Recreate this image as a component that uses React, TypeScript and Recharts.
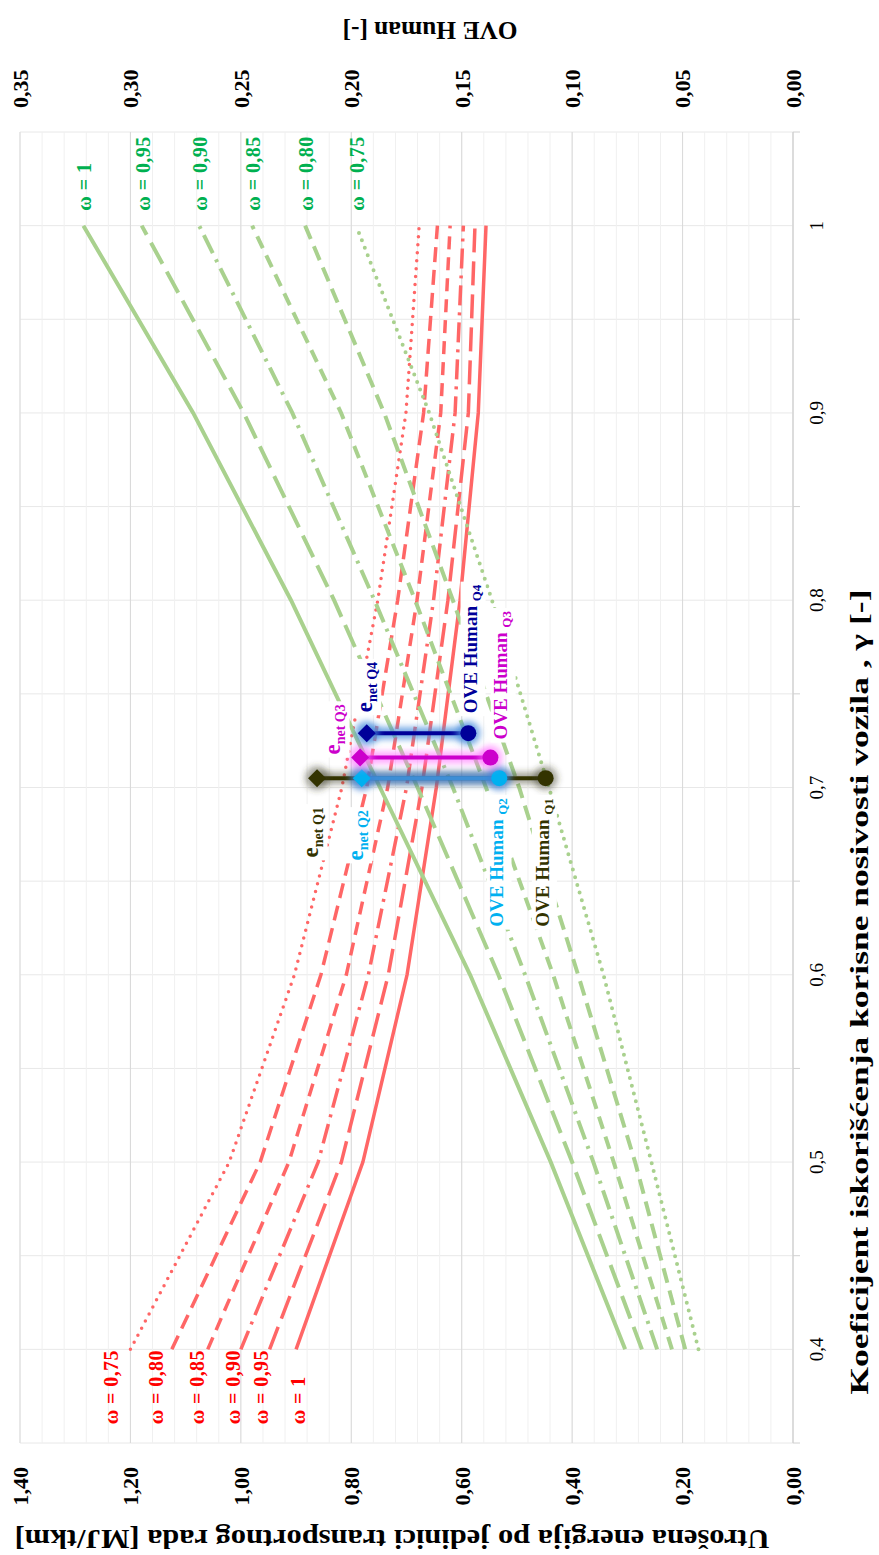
import React from "react";
import {
  ComposedChart,
  Line,
  XAxis,
  YAxis,
  CartesianGrid,
  LabelList,
} from "recharts";

// γ values where the curves were computed
const gammas = [0.4, 0.5, 0.6, 0.7, 0.8, 0.9, 1];
const omegas = ["1", "0,95", "0,90", "0,85", "0,80", "0,75"];

// Utrošena energija [MJ/tkm] for each ω (red curves, left axis)
const energyW100 = [0.9, 0.779, 0.699, 0.646, 0.603, 0.57, 0.556];
const energyW095 = [0.948, 0.818, 0.733, 0.672, 0.625, 0.588, 0.576];
const energyW090 = [1.0, 0.86, 0.769, 0.7, 0.651, 0.612, 0.597];
const energyW085 = [1.06, 0.913, 0.809, 0.734, 0.681, 0.638, 0.621];
const energyW080 = [1.125, 0.965, 0.855, 0.772, 0.716, 0.669, 0.644];
const energyW075 = [1.2, 1.021, 0.903, 0.817, 0.752, 0.701, 0.677];

// OVE Human [-] for each ω (green curves, right axis)
const oveW100 = [0.076, 0.1097, 0.1462, 0.187, 0.2273, 0.2716, 0.3213];
const oveW095 = [0.0684, 0.1, 0.1334, 0.17, 0.2078, 0.2487, 0.2949];
const oveW090 = [0.0615, 0.0904, 0.1213, 0.154, 0.1895, 0.2267, 0.2689];
const oveW085 = [0.0548, 0.0812, 0.1086, 0.139, 0.1711, 0.2046, 0.2449];
const oveW080 = [0.0488, 0.0715, 0.0973, 0.124, 0.154, 0.1851, 0.2209];
const oveW075 = [0.0428, 0.0641, 0.0858, 0.1105, 0.1363, 0.1647, 0.1978];

// quarterly measurements
const quarters = ["Q1", "Q2", "Q3", "Q4"];
const qGamma = [0.705, 0.705, 0.716, 0.729];
const qEnet = [0.862, 0.781, 0.784, 0.772];
const qOve = [0.112, 0.133, 0.137, 0.147];

const energyTicks = [0, 0.2, 0.4, 0.6, 0.8, 1.0, 1.2, 1.4];
const oveTicks = [0, 0.05, 0.1, 0.15, 0.2, 0.25, 0.3, 0.35];
const gammaTicks = [
  0.35, 0.4, 0.45, 0.5, 0.55, 0.6, 0.65, 0.7, 0.75, 0.8, 0.85, 0.9, 0.95, 1,
  1.05,
];

const W = 1555;
const H = 879;
const FONT = '"Liberation Serif", "Times New Roman", serif';
const E_MAX = 1.4;
const OVE_MAX = 0.35;

const energyMinor = Array.from({ length: 36 }, (_, i) => +(i * 0.04).toFixed(2));

// one dash pattern per ω (1 ... 0,75)
const dashes = ["", "24 9", "20 7 3 7", "13 8", "15 8", "0 8"];
const redLabelDy = [9, -2, -1, -4, -9, -12];

const redSets = [energyW100, energyW095, energyW090, energyW085, energyW080, energyW075];
const greenSets = [oveW100, oveW095, oveW090, oveW085, oveW080, oveW075];

const qStyle = [
  { color: "#333300", line: "#333300", glow: "rgba(60,60,40,0.45)", e: { dx: -29, dy: 1, end: true }, o: { dx: -20, dy: 3, end: true } },
  { color: "#00B0F0", line: "#3d8ed6", glow: "rgba(60,130,215,0.75)", e: { dx: -32, dy: 1, end: true }, o: { dx: -20, dy: 4, end: true } },
  { color: "#CC00CC", line: "#CC00CC", glow: "rgba(255,110,255,0.6)", e: { dx: 3, dy: -20, end: false }, o: { dx: 18, dy: 17, end: false } },
  { color: "#000099", line: "#000099", glow: "rgba(70,140,220,0.75)", e: { dx: 21, dy: 5, end: false }, o: { dx: 20, dy: 9, end: false } },
];

let ctx: CanvasRenderingContext2D | null = null;
const measure = (s: string, size: number) => {
  if (!ctx) ctx = document.createElement("canvas").getContext("2d");
  if (!ctx) return s.length * size * 0.5;
  ctx.font = `bold ${size}px "Liberation Serif"`;
  return ctx.measureText(s).width;
};

const pos = (p: any) => {
  const vb = p.viewBox || {};
  return { x: Number(p.x ?? vb.x), y: Number(p.y ?? vb.y) };
};

const fmt = (v: number, d: number) => v.toFixed(d).replace(".", ",");

const richLabel =
  (main: string, sub: string, color: string, spec: any, mainSize: number, subSize: number, shift: number) =>
  (p: any) => {
    if (p.value == null) return null;
    const { x, y } = pos(p);
    const w = measure(main, mainSize) + measure(sub, subSize);
    const x0 = spec.end ? x + spec.dx - w : x + spec.dx;
    const y0 = y + spec.dy;
    const top = y0 - mainSize * 0.78;
    return (
      <g>
        <rect x={x0 - 3} y={top - 2} width={w + 6} height={y0 + shift + subSize * 0.25 - top + 3} fill="#fff" />
        <text x={x0} y={y0} fill={color} fontFamily={FONT} fontWeight={700}>
          <tspan fontSize={mainSize}>{main}</tspan>
          <tspan fontSize={subSize} dy={shift}>{sub}</tspan>
        </text>
      </g>
    );
  };

const GammaTick = (p: any) => {
  const v = Number(p.payload?.value);
  const x = Number(p.x);
  const y = Number(p.y);
  if (Math.round(v * 100) % 10 === 0) {
    return (
      <text x={x} y={y + 22} textAnchor="middle" fontFamily={FONT} fontSize={19} fill="#000">
        {v === 1 ? "1" : fmt(v, 1)}
      </text>
    );
  }
  return <line x1={x} x2={x} y1={y - 8} y2={y - 1} stroke="#d0d0d0" />;
};

const rows = (vals: number[], label: string, at: number) =>
  gammas.map((g, i) => ({ g, v: vals[i], lab: i === at ? label : undefined }));

export default function App() {
  return (
    <div
      style={{
        position: "absolute",
        left: 0,
        top: 0,
        width: W,
        height: H,
        background: "#fff",
        transformOrigin: "0 0",
        transform: `translate(0px, ${W}px) rotate(-90deg)`,
      }}
    >
      <svg width={0} height={0} style={{ position: "absolute" }}>
        <defs>
          <filter id="glow" filterUnits="userSpaceOnUse" x="0" y="0" width={W} height={H}>
            <feGaussianBlur stdDeviation="3" />
          </filter>
        </defs>
      </svg>
      <ComposedChart width={W} height={H} margin={{ top: 20, right: 0, bottom: 0, left: 0 }}>
        <CartesianGrid horizontal={false} verticalValues={gammaTicks} stroke="#e8e8e8" />
        <CartesianGrid vertical={false} horizontalValues={energyMinor} stroke="#f0f0f0" />
        <CartesianGrid vertical={false} horizontalValues={energyTicks} stroke="#d9d9d9" />
        <XAxis
          type="number"
          dataKey="g"
          domain={[0.35, 1.05]}
          ticks={gammaTicks}
          interval={0}
          allowDataOverflow
          tick={(p: any) => <GammaTick {...p} />}
          tickLine={false}
          axisLine={{ stroke: "#d0d0d0" }}
          height={86}
        />
        <YAxis
          type="number"
          domain={[0, E_MAX]}
          ticks={energyTicks}
          interval={0}
          allowDataOverflow
          width={112}
          tickLine={false}
          axisLine={false}
          tickMargin={18}
          tickFormatter={(v: number) => fmt(v, 2)}
          tick={{ fontFamily: FONT, fontSize: 22, fontWeight: 700, fill: "#000" }}
        />
        <YAxis
          yAxisId="right"
          orientation="right"
          type="number"
          domain={[0, OVE_MAX]}
          ticks={oveTicks}
          interval={0}
          allowDataOverflow
          width={132}
          tickLine={false}
          axisLine={false}
          tickMargin={18}
          tickFormatter={(v: number) => fmt(v, 2)}
          tick={{ fontFamily: FONT, fontSize: 22, fontWeight: 700, fill: "#000" }}
        />

        {redSets.map((vals, k) => (
          <Line
            key={`e${k}`}
            data={rows(vals, omegas[k], 0)}
            dataKey="v"
            type="linear"
            stroke="#FF6666"
            strokeWidth={3.5}
            strokeDasharray={dashes[k] || undefined}
            strokeLinecap={k === 5 ? "round" : "butt"}
            dot={false}
            activeDot={false}
            isAnimationActive={false}
          >
            <LabelList
              dataKey="lab"
              content={(p: any) => {
                if (p.value == null) return null;
                const { x, y } = pos(p);
                return (
                  <text x={x - 75} y={y + redLabelDy[k]} fill="#FF0000" fontFamily={FONT} fontWeight={700} fontSize={20} letterSpacing={0.4}>
                    {`ω = ${p.value}`}
                  </text>
                );
              }}
            />
          </Line>
        ))}

        {greenSets.map((vals, k) => (
          <Line
            key={`o${k}`}
            yAxisId="right"
            data={rows(vals, omegas[k], gammas.length - 1)}
            dataKey="v"
            type="linear"
            stroke="#A9D18E"
            strokeWidth={4}
            strokeDasharray={dashes[k] || undefined}
            strokeLinecap={k === 5 ? "round" : "butt"}
            dot={false}
            activeDot={false}
            isAnimationActive={false}
          >
            <LabelList
              dataKey="lab"
              content={(p: any) => {
                if (p.value == null) return null;
                const { x, y } = pos(p);
                return (
                  <text x={x + 15} y={y + 8} fill="#00B050" fontFamily={FONT} fontWeight={700} fontSize={20} letterSpacing={0.4}>
                    {`ω = ${p.value}`}
                  </text>
                );
              }}
            />
          </Line>
        ))}

        {quarters.map((q, i) => {
          const s = qStyle[i];
          const seg = [
            { g: qGamma[i], v: qEnet[i], lab: q },
            { g: qGamma[i], v: qOve[i] * (E_MAX / OVE_MAX), lab: undefined },
          ];
          return [
            <Line
              key={`glow${q}`}
              data={seg}
              dataKey="v"
              stroke={s.glow}
              strokeWidth={12}
              filter="url(#glow)"
              dot={(d: any) => (
                <circle key={`gd${q}${d.index}`} cx={d.cx} cy={d.cy} r={12} fill={s.glow} filter="url(#glow)" />
              )}
              activeDot={false}
              isAnimationActive={false}
            />,
            <Line
              key={`seg${q}`}
              data={seg}
              dataKey="v"
              stroke={s.line}
              strokeWidth={4}
              dot={(d: any) =>
                d.index === 0 ? (
                  <polygon
                    key={`dm${q}`}
                    points={`${d.cx - 9},${d.cy} ${d.cx},${d.cy - 9} ${d.cx + 9},${d.cy} ${d.cx},${d.cy + 9}`}
                    fill={s.color}
                  />
                ) : (
                  <g key={`dn${q}`} />
                )
              }
              activeDot={false}
              isAnimationActive={false}
            >
              <LabelList dataKey="lab" content={richLabel("e", `net ${q}`, s.color, s.e, 23, 14, 5)} />
            </Line>,
            <Line
              key={`ove${q}`}
              yAxisId="right"
              data={[{ g: qGamma[i], v: qOve[i], lab: q }]}
              dataKey="v"
              stroke="none"
              dot={(d: any) => <circle key={`c${q}`} cx={d.cx} cy={d.cy} r={8} fill={s.color} />}
              activeDot={false}
              isAnimationActive={false}
            >
              <LabelList dataKey="lab" content={richLabel("OVE Human ", q, s.color, s.o, 19, 13, 4)} />
            </Line>,
          ];
        })}
      </ComposedChart>

      <svg width={W} height={H} style={{ position: "absolute", left: 0, top: 0, pointerEvents: "none" }}>
        <text x={563} y={868} textAnchor="middle" fontFamily={FONT} fontWeight={700} fontSize={25} fill="#000" textLength={805} lengthAdjust="spacingAndGlyphs">
          Koeficijent iskorišćenja korisne nosivosti vozila , γ [-]
        </text>
        <text transform="translate(25,392) rotate(-90)" textAnchor="middle" fontFamily={FONT} fontWeight={700} fontSize={27} fill="#000" textLength={755} lengthAdjust="spacingAndGlyphs">
          Utrošena energija po jedinici transportnog rada [MJ/tkm]
        </text>
        <text transform="translate(1533,430) rotate(-90)" textAnchor="middle" fontFamily={FONT} fontWeight={700} fontSize={25} fill="#000" textLength={175} lengthAdjust="spacingAndGlyphs">
          OVE Human [-]
        </text>
      </svg>
    </div>
  );
}
